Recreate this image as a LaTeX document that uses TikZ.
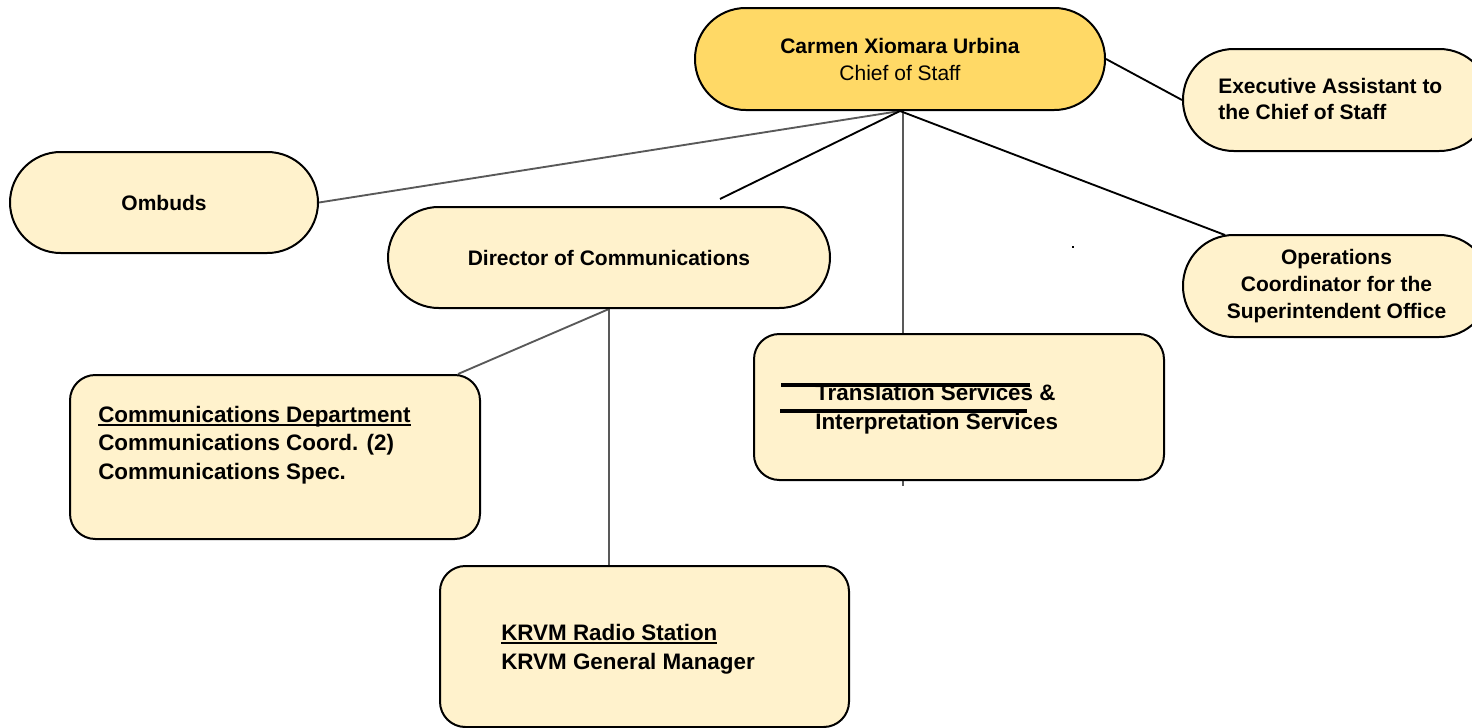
\documentclass[tikz,border=0pt]{standalone}
\usepackage{fontspec}
\setmainfont{Liberation Sans}
\usetikzlibrary{backgrounds,calc}
\definecolor{lightfill}{HTML}{FFF2CC}
\definecolor{chieffill}{HTML}{FFD966}
\definecolor{linegray}{HTML}{595959}
\newcommand\thickul[1]{\setbox0\hbox{#1}\rlap{\rule[-2.6pt]{\wd0}{1.3pt}}\box0}
\tikzset{
  box/.style={draw=black, line width=1.5pt, fill=lightfill, inner sep=0pt},
  pill/.style={box, rounded corners=38pt},
  rbox/.style={box, rounded corners=19pt},
  rlabel/.style={font=\bfseries\fontsize{15.75}{20.25}\selectfont, align=center},
  alabel/.style={font=\bfseries\fontsize{16.8}{21.5}\selectfont, align=left, anchor=west, inner sep=0pt},
  graylink/.style={draw=linegray, line width=1.4pt},
  blacklink/.style={draw=black, line width=1.4pt},
}
\begin{document}
\begin{tikzpicture}[x=0.75pt,y=-0.75pt]
\useasboundingbox (0,0) rectangle (1472,728);
\clip (0,0) rectangle (1472,728);
% boxes
\node[pill, fill=chieffill, minimum width=307.5pt, minimum height=76.5pt, align=center,
      font=\fontsize{15.75}{20.25}\selectfont] (chief) at (900,59)
  {\textbf{Carmen Xiomara Urbina}\\Chief of Staff};
\node[pill, minimum width=230.25pt, minimum height=76.5pt] (exec) at (1336.5,100) {};
\node[pill, rlabel, minimum width=231pt, minimum height=75.75pt] (ombuds) at (164,202.5) {Ombuds};
\node[pill, rlabel, minimum width=331.5pt, minimum height=75.75pt] (dir) at (609,257.5) {Director of Communications};
\node[pill, rlabel, minimum width=230.25pt, minimum height=76.5pt] (ops) at (1336.5,286)
  {Operations\\Coordinator for the\\Superintendent Office};
\node[rbox, minimum width=307.5pt, minimum height=109.5pt] (trans) at (959,407) {};
\node[rbox, minimum width=307.5pt, minimum height=123pt] (comm) at (275,457) {};
\node[rbox, minimum width=306.75pt, minimum height=120.75pt] (krvm) at (644.5,646.5) {};
% texts
\node[alabel, font=\bfseries\fontsize{15.75}{19.5}\selectfont] (execT) at (1218,99)
  {Executive Assistant to\\the Chief of Staff};
\node[alabel] (transT) at (815,409) {Translation Services \&\\Interpretation Services};
\node[alabel] (commT) at (98,445) {\thickul{Communications Department}\\Communications Coord. (2)\\Communications Spec.};
\node[alabel] (krvmT) at (501,649) {\thickul{KRVM Radio Station}\\KRVM General Manager};
% strike lines over translation text
\draw[line width=2.4pt] (781,385) -- (1030,385);
\draw[line width=2.4pt] (780,411) -- (1027,411);
% stray dot
\fill (1072,246) rectangle (1074,248);
% connectors
\coordinate (dirend) at (720,199);
\begin{scope}[on background layer]
\draw[graylink] (chief.south) -- (ombuds.east);
\draw[blacklink] (chief.south) -- (dirend);
\draw[graylink] ($(chief.south)+(3,0)$) -- ($(chief.south |- trans.north)+(3,0)$);
\draw[graylink] ($(chief.south |- trans.south)+(3,0)$) -- ++(0,5);
\draw[blacklink] (chief.south) -- ($(ops.north west)+(43,1)$);
\draw[blacklink] (chief.east) -- (exec.west);
\draw[graylink] (dir.south) -- ($(comm.north east)+(-23,0)$);
\draw[graylink] (dir.south) -- (dir.south |- krvm.north);
\end{scope}
\end{tikzpicture}
\end{document}
